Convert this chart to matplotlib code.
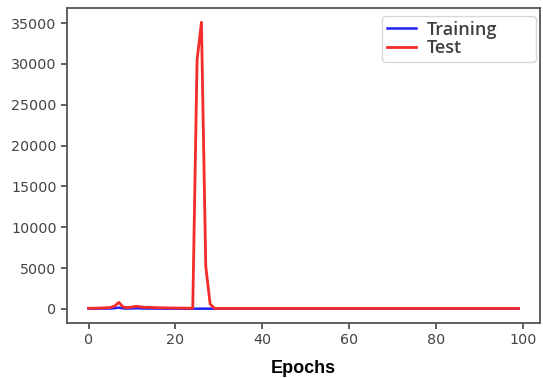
import numpy as np
import matplotlib.pyplot as plt

# loss per epoch
training = [40, 40, 40, 45, 45, 50, 90, 160, 60, 50, 60, 90, 70, 50, 50, 45, 40, 40, 35, 35,
            30, 30, 30, 30, 30, 30, 30, 30, 30, 30, 30, 30, 30, 30, 30, 30, 30, 30, 30, 30,
            30, 30, 30, 30, 30, 30, 30, 30, 30, 30, 30, 30, 30, 30, 30, 30, 30, 30, 30, 30,
            30, 30, 30, 30, 30, 30, 30, 30, 30, 30, 30, 30, 30, 30, 30, 30, 30, 30, 30, 30,
            30, 30, 30, 30, 30, 30, 30, 30, 30, 30, 30, 30, 30, 30, 30, 30, 30, 30, 30, 30]
test = [80, 90, 100, 120, 140, 170, 350, 800, 220, 160, 230, 330, 260, 190, 210, 170, 150, 140, 130, 120,
        110, 100, 100, 90, 80, 30500, 35100, 5200, 600, 70, 60, 60, 60, 60, 60, 60, 60, 60, 60, 60,
        60, 60, 60, 60, 60, 60, 60, 60, 60, 60, 60, 60, 60, 60, 60, 60, 60, 60, 60, 60,
        60, 60, 60, 60, 60, 60, 60, 60, 60, 60, 60, 60, 60, 60, 60, 60, 60, 60, 60, 60,
        60, 60, 60, 60, 60, 60, 60, 60, 60, 60, 60, 60, 60, 60, 60, 60, 60, 60, 60, 60]
epochs = np.arange(len(test))

fig = plt.figure(figsize=(5.43, 3.78), dpi=100)
ax = fig.add_axes([67/543, 55/378, 473/543, 315/378])

ax.plot(epochs, training, color='#2020ff', lw=1.8, label='Training')
ax.plot(epochs, test, color='#f52a2a', lw=2.0, label='Test')

ax.set_xticks([0, 20, 40, 60, 80, 100])
ax.set_yticks(np.arange(0, 35001, 5000))
ax.tick_params(colors='#444444', labelsize=10.3, length=4, width=1.2)
for s in ax.spines.values():
    s.set_color('#555555')
    s.set_linewidth(1.3)

ax.set_xlabel('Epochs', family='Liberation Sans', weight='bold', fontsize=13, labelpad=9)

# legend box stretched to the width seen in the picture
leg = ax.legend(loc='upper left', bbox_to_anchor=(0.666, 0.5, 0.3256, 0.4746), mode='expand',
                borderaxespad=0, prop={'family': 'Open Sans', 'size': 13, 'weight': 'semibold'},
                labelspacing=0.05, handlelength=1.65, handletextpad=0.55, borderpad=0.25)
for t in leg.get_texts():
    t.set_color('#404040')

fig.savefig('out.png', dpi=100)
